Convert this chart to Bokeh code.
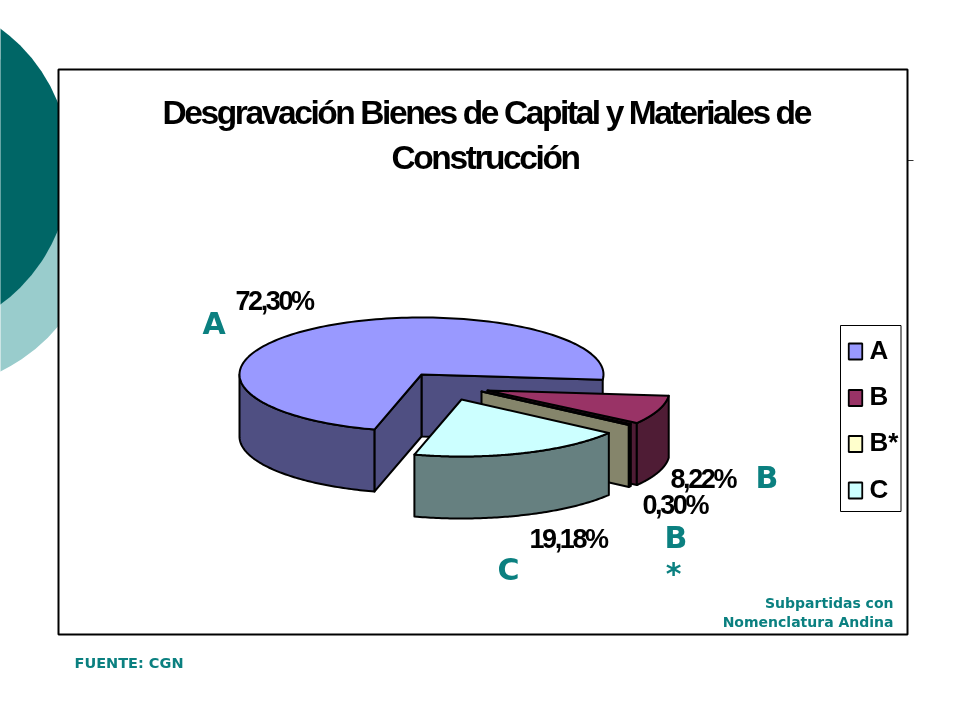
import numpy as np
from bokeh.embed import file_html
from bokeh.layouts import column
from bokeh.models import Range1d
from bokeh.plotting import figure
from bokeh.resources import INLINE
from bokeh.core.properties import value

# ---- data ----
categories = ["A", "B", "B*", "C"]
shares = [72.30, 8.22, 0.30, 19.18]
share_labels = ["72,30%", "8,22%", "0,30%", "19,18%"]
title_lines = ["Desgravación Bienes de Capital y Materiales de", "Construcción"]
top_colors = ["#9999FF", "#993366", "#FFFFCC", "#CCFFFF"]
side_colors = ["#4F4F82", "#4F1C35", "#85856B", "#668080"]

# ---- layout (page pixels) ----
TEAL = "#0B8080"
START = 105.0
CX, CY, RX, RY, DEPTH = 421.0, 374.0, 182.0, 57.0, 62.0
offsets = [(0, 0), (66, 16), (60, 17), (40, 25)]


def base(styles, **kw):
    f = figure(width=952, height=712, output_backend="svg", toolbar_location=None,
               x_range=Range1d(0, 952), y_range=Range1d(712, 0), min_border=0,
               outline_line_color=None, styles=styles, **kw)
    f.axis.visible = False
    f.grid.visible = False
    return f


PLACE = {"position": "fixed", "left": "0px", "top": "0px"}
p = base(dict(PLACE), background_fill_color="white")
# second layer holds the tightly set chart texts
q = base({**PLACE, "letter-spacing": "-2.4px"}, background_fill_color=None, border_fill_color=None)

# slide decoration
p.circle([-75], [215], radius=173, fill_color="#99CCCC", line_color=None)
p.circle([-101.5], [166], radius=171.3, fill_color="#006666", line_color=None)
# tick stub and chart frame
p.line([907, 913], [160, 160], line_color="#333333", line_width=1)
p.quad(left=[58], right=[907], top=[69], bottom=[634], fill_color="white", line_color="black", line_width=2)


def pt(t, ox, oy, dz=0.0):
    a = np.radians(t)
    return CX + ox + RX * np.cos(a), CY + oy + RY * np.sin(a) + dz


def poly(xs, ys, color):
    p.patch(list(xs), list(ys), fill_color=color, line_color="black", line_width=2, line_join="round")


def draw_slice(t0, t1, off, top, side, walls):
    ox, oy = off
    ax, ay = CX + ox, CY + oy
    # cut faces that look toward the viewer
    for t in walls:
        x, y = pt(t, ox, oy)
        poly([ax, x, x, ax], [ay, y, y + DEPTH, ay + DEPTH], side)
    # outer wall: the part of the rim on the near side
    lo, hi = max(t0, 0.0), min(t1, 180.0)
    if hi > lo:
        ts = np.linspace(lo, hi, 80)
        xs, ys = pt(ts, ox, oy)
        poly(np.r_[xs, xs[::-1]], np.r_[ys, ys[::-1] + DEPTH], side)
    # top face
    ts = np.linspace(t0, t1, 160)
    xs, ys = pt(ts, ox, oy)
    poly(np.r_[ax, xs], np.r_[ay, ys], top)


angles = START + np.r_[0, np.cumsum(shares)] * 3.6
for i in range(4):
    t0, t1 = angles[i], angles[i + 1]
    if i == 0:
        walls = [t1 - 360, t0]
    else:
        t0, t1 = t0 - 360, t1 - 360
        walls = [t1] if i < 3 else []
    draw_slice(t0, t1, offsets[i], top_colors[i], side_colors[i], walls)

SANS = value("Liberation Sans")
DEJA = value("DejaVu Sans")

# title
q.text([162, 391], [112, 157], text=title_lines, text_font=SANS, text_font_size="33.5px",
       text_font_style="bold", text_align="left", text_baseline="middle", text_color="black")

# share labels
lx = [235, 670, 642, 529]
ly = [300, 478, 504, 538]
q.text(lx, ly, text=share_labels, text_font=SANS, text_font_size="27px", text_font_style="bold",
       text_align="left", text_baseline="middle", text_color="black")

# teal category labels
p.text([202, 755, 664, 497], [323, 477, 537, 569], text=["A", "B", "B", "C"], text_font=DEJA,
       text_font_size="30px", text_font_style="bold", text_align="left", text_baseline="middle", text_color=TEAL)
p.text([673], [573], text=["*"], text_font=DEJA, text_font_size="30px", text_font_style="bold",
       text_align="center", text_baseline="middle", text_color=TEAL)

# legend
p.quad(left=[840], right=[900.5], top=[325], bottom=[511], fill_color="white", line_color="black", line_width=1)
leg_y = [351, 397.5, 443.5, 490]
p.rect([855] * 4, leg_y, width=13.5, height=16, fill_color=top_colors, line_color="black", line_width=1.8)
p.text([869] * 4, [y - 2 for y in leg_y], text=categories, text_font=SANS, text_font_size="26px",
       text_font_style="bold", text_align="left", text_baseline="middle", text_color="black")

# notes
p.text([893, 893], [602, 621], text=["Subpartidas con", "Nomenclatura Andina"], text_font=DEJA,
       text_font_size="14px", text_font_style="bold", text_align="right", text_baseline="middle", text_color=TEAL)
p.text([74], [662], text=["FUENTE: CGN"], text_font=DEJA, text_font_size="14.5px", text_font_style="bold",
       text_align="left", text_baseline="middle", text_color=TEAL)

open("out.html", "w").write(file_html(column(p, q), INLINE))
